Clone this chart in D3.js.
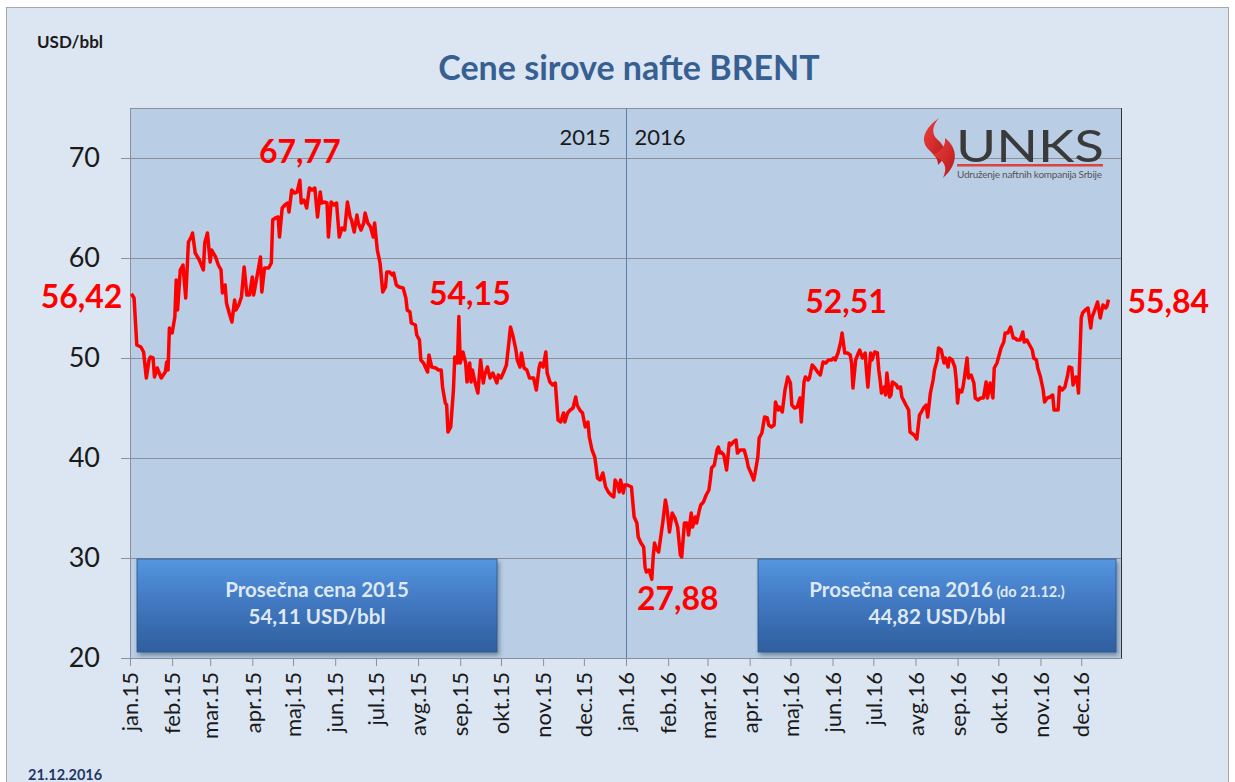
<!DOCTYPE html>
<html>
<head>
<meta charset="utf-8">
<script src="https://cdnjs.cloudflare.com/ajax/libs/d3/7.8.5/d3.min.js"></script>
<style>
body { margin: 0; background: #fff; }
svg text { font-family: Lato, "Open Sans", sans-serif; }
</style>
</head>
<body>
<script>
// [day of year (0 = 1 Jan), price in USD/bbl]
var brent2015 = [
	[1,56.42],[3,56.0],[5,51.3],[8,51.1],[10,50.6],[12,48.0],[14,49.8],[15,50.1],[17,50.0],[18,48.1],
	[20,49.0],[23,48.0],[26,48.6],[27,49.6],[28,48.8],[29,53.0],[31,52.5],[33,54.1],[34,57.8],[35,54.8],
	[37,58.8],[39,59.3],[41,56.0],[43,61.6],[45,62.1],[46,62.5],[48,60.5],[51,59.8],[54,58.8],[55,61.5],
	[57,62.5],[59,59.6],[60,60.8],[63,60.1],[65,59.3],[67,58.8],[68,56.5],[70,57.3],[71,55.5],[73,54.5],
	[75,53.6],[77,55.8],[78,54.8],[80,55.3],[82,56.1],[84,59.1],[86,56.3],[88,56.3],[90,58.1],[91,56.3],
	[93,57.8],[96,60.1],[97,56.6],[99,59.0],[102,59.0],[104,59.5],[105,63.8],[107,64.0],[109,64.1],[110,62.1],
	[112,65.0],[114,65.3],[116,65.5],[117,64.6],[119,66.8],[121,66.5],[123,66.6],[125,67.77],[126,65.5],[128,65.8],
	[130,65.0],[132,67.0],[134,66.8],[136,67.0],[138,64.1],[140,66.6],[141,65.5],[143,65.6],[145,65.5],[146,62.1],
	[148,65.6],[150,65.3],[152,65.5],[154,62.1],[156,63.0],[158,62.8],[160,65.6],[162,64.1],[163,63.8],[165,62.6],
	[167,64.3],[168,63.5],[170,62.8],[172,63.5],[173,64.5],[175,63.5],[177,63.1],[179,62.1],[180,63.5],[182,60.8],
	[184,59.5],[186,56.6],[188,57.1],[189,58.6],[191,58.6],[193,58.3],[194,58.5],[196,57.3],[198,57.1],[201,57.0],
	[203,56.0],[204,54.8],[206,54.6],[207,53.5],[210,53.3],[211,52.3],[213,51.8],[214,49.8],[216,49.5],[219,48.6],
	[220,50.3],[222,49.1],[225,49.0],[227,48.8],[229,48.8],[230,47.1],[232,45.5],[233,45.3],[234,42.6],[236,43.1],
	[238,46.8],[239,50.1],[241,49.5],[242,54.15],[243,49.5],[245,50.6],[247,49.5],[248,47.6],[250,49.5],[251,47.6],
	[252,48.8],[254,47.5],[256,46.5],[258,49.8],[260,47.5],[261,48.3],[263,49.1],[265,48.0],[267,48.5],[270,47.5],
	[271,48.3],[273,48.0],[275,48.6],[277,49.3],[279,51.8],[280,53.1],[282,52.1],[284,50.8],[285,49.8],[287,49.1],
	[288,50.5],[290,49.0],[292,48.8],[294,48.0],[297,48.0],[299,46.8],[301,49.0],[302,49.5],[304,49.1],[306,50.6],
	[307,48.5],[309,47.6],[311,47.3],[313,47.5],[315,43.8],[317,43.6],[319,44.5],[320,43.6],[322,44.5],[324,44.8],
	[326,45.0],[328,46.1],[329,45.3],[331,44.8],[333,44.5],[335,43.1],[337,43.6],[338,42.1],[340,40.8],[342,40.1],
	[343,39.1],[344,38.0],[346,37.8],[348,38.5],[350,37.1],[352,36.6],[354,36.3],[356,36.1],[357,37.8],[359,37.3],
	[360,36.6],[361,37.8],[363,36.5],[364,37.3]
];
var brent2016 = [
	[1,37.3],[4,37.1],[6,34.1],[8,33.5],[9,32.1],[11,31.5],[13,31.1],[14,29.1],[15,28.6],[17,28.8],
	[19,27.88],[20,30.1],[21,31.5],[22,31.0],[24,30.6],[27,33.5],[29,35.8],[30,35.1],[32,32.6],[34,34.5],
	[36,34.0],[38,33.1],[40,30.3],[41,30.1],[43,33.5],[45,33.5],[46,32.3],[48,34.5],[49,33.1],[51,34.1],
	[52,33.5],[54,34.8],[55,35.3],[57,35.6],[59,36.3],[61,36.8],[62,37.8],[63,39.0],[65,39.3],[67,40.8],
	[68,41.1],[69,40.5],[70,40.6],[72,40.3],[74,38.8],[76,41.5],[77,41.3],[79,41.6],[81,41.8],[82,40.5],
	[84,40.8],[87,40.8],[89,39.8],[90,39.1],[92,38.5],[94,37.8],[95,38.5],[97,40.1],[98,42.0],[100,42.5],
	[101,43.3],[102,44.1],[104,44.0],[105,43.3],[107,43.1],[109,43.3],[110,45.6],[112,44.8],[113,45.1],[115,44.6],
	[117,46.8],[119,48.1],[121,47.5],[122,45.3],[124,45.0],[126,45.1],[128,46.0],[129,43.6],[131,47.6],[132,48.1],
	[134,47.8],[135,48.0],[137,49.3],[139,49.0],[141,48.6],[143,48.3],[145,49.6],[147,49.5],[149,49.8],[151,49.8],
	[153,50.0],[154,49.8],[156,50.5],[158,51.6],[159,52.51],[160,51.5],[161,50.5],[163,50.5],[165,50.3],[166,49.5],
	[167,47.0],[169,49.8],[171,50.5],[172,50.8],[174,50.0],[176,50.5],[177,48.6],[178,47.1],[180,50.5],[181,49.8],
	[183,50.6],[185,50.5],[186,48.8],[187,47.8],[188,46.5],[190,47.1],[191,46.3],[192,48.5],[194,46.1],[195,46.3],
	[196,47.6],[199,47.3],[200,47.0],[202,47.1],[203,46.1],[206,45.3],[208,44.8],[209,42.6],[212,42.3],[214,41.9],
	[216,44.3],[217,44.5],[219,45.0],[221,45.3],[222,44.1],[224,46.5],[226,47.8],[227,48.8],[229,49.8],[230,51.0],
	[232,50.8],[234,49.5],[235,50.0],[237,49.1],[238,50.0],[240,49.8],[242,49.1],[243,47.8],[244,45.5],[245,46.8],
	[247,46.6],[248,47.1],[249,48.0],[251,50.0],[252,48.0],[254,48.3],[256,47.5],[257,46.0],[259,45.8],[261,46.0],
	[263,46.0],[265,47.6],[266,46.0],[268,47.5],[270,46.0],[271,49.0],[273,49.5],[275,50.5],[276,51.0],[278,51.6],
	[279,52.5],[281,52.5],[283,53.1],[285,52.0],[286,52.0],[288,51.8],[290,51.8],[292,52.6],[293,51.6],[295,51.8],
	[297,51.3],[299,50.8],[300,50.0],[302,49.8],[303,49.0],[305,48.1],[307,46.8],[308,45.6],[310,46.0],[312,46.1],
	[314,46.3],[315,44.8],[318,44.8],[319,47.1],[321,46.8],[323,47.1],[325,48.3],[326,49.1],[328,49.0],[329,47.3],
	[331,48.1],[332,47.8],[333,46.5],[335,54.0],[336,54.5],[338,54.8],[340,55.0],[342,53.0],[343,54.1],[345,54.8],
	[347,55.6],[349,54.0],[351,55.3],[353,55.0],[354,55.2],[355,55.84]
];

var monthNames = ["jan","feb","mar","apr","maj","jun","jul","avg","sep","okt","nov","dec"];
var yTicks = [20, 30, 40, 50, 60, 70];
var yearLabels = ["2015", "2016"];
var calloutValues = [56.42, 67.77, 54.15, 27.88, 52.51, 55.84];
var avgTitles = ["Prosečna cena 2015", "Prosečna cena 2016"];
var avgNotes = ["", "(do 21.12.)"];
var avgValues = ["54,11 USD/bbl", "44,82 USD/bbl"];

// SVG Size
var width = 1235,
	height = 782;
var margin = {top: 108, right: 113, bottom: 124, left: 130};
var plotW = width - margin.left - margin.right,
	plotH = height - margin.top - margin.bottom;

var data = brent2015.map(function(d) {
	return {date: d3.timeDay.offset(new Date(2015, 0, 1), d[0]), price: d[1]};
}).concat(brent2016.map(function(d) {
	return {date: d3.timeDay.offset(new Date(2016, 0, 1), d[0]), price: d[1]};
}));

var svg = d3.select("body").append("svg")
	.attr("width", width)
	.attr("height", height);

var defs = svg.append("defs");
var grad = defs.append("linearGradient")
	.attr("id", "boxGrad")
	.attr("x1", 0).attr("y1", 0).attr("x2", 0).attr("y2", 1);
grad.append("stop").attr("offset", "0%").attr("stop-color", "#5596e0");
grad.append("stop").attr("offset", "45%").attr("stop-color", "#4279c2");
grad.append("stop").attr("offset", "100%").attr("stop-color", "#2f5f9e");
var shadow = defs.append("filter").attr("id", "shadow")
	.attr("x", "-10%").attr("y", "-10%").attr("width", "130%").attr("height", "140%");
shadow.append("feDropShadow")
	.attr("dx", 2).attr("dy", 3).attr("stdDeviation", 2)
	.attr("flood-color", "#1f3350").attr("flood-opacity", 0.45);
var flameGrad = defs.append("linearGradient")
	.attr("id", "flameGrad")
	.attr("x1", 0).attr("y1", 0).attr("x2", 1).attr("y2", 1);
flameGrad.append("stop").attr("offset", "0%").attr("stop-color", "#f0413c");
flameGrad.append("stop").attr("offset", "100%").attr("stop-color", "#b5181c");

// outer frame
svg.append("rect")
	.attr("x", 6.5).attr("y", 7.5)
	.attr("width", 1222).attr("height", 790)
	.attr("fill", "#dce6f2")
	.attr("stroke", "#a6a6a6");

svg.append("text")
	.attr("x", 37).attr("y", 48)
	.attr("font-size", 17).attr("font-weight", "bold")
	.attr("fill", "#1a1a1a")
	.text("USD/bbl");

svg.append("text")
	.attr("x", 629).attr("y", 80)
	.attr("text-anchor", "middle")
	.attr("font-size", 34).attr("font-weight", "bold")
	.attr("fill", "#376092")
	.text("Cene sirove nafte BRENT");

svg.append("text")
	.attr("x", 28).attr("y", 780)
	.attr("font-size", 14.5).attr("font-weight", "bold")
	.attr("fill", "#1f3864")
	.text("21.12.2016");

var g = svg.append("g")
	.attr("transform", "translate(" + margin.left + "," + margin.top + ")");

var xScale = d3.scaleTime()
	.domain([new Date(2015, 0, 1), new Date(2016, 11, 31)])
	.range([0, plotW]);
var yScale = d3.scaleLinear()
	.domain([20, 75])
	.range([plotH, 0]);

// plot area
g.append("rect")
	.attr("width", plotW).attr("height", plotH)
	.attr("fill", "#b9cde5");

g.selectAll(".grid")
	.data(yTicks.filter(function(v) { return v > 20; }))
	.enter().append("line")
	.attr("class", "grid")
	.attr("x1", 0).attr("x2", plotW)
	.attr("y1", function(d) { return Math.round(yScale(d)) + 0.5; })
	.attr("y2", function(d) { return Math.round(yScale(d)) + 0.5; })
	.attr("stroke", "#8a8f99");

g.append("line")
	.attr("x1", 0).attr("x2", plotW).attr("y1", 0.5).attr("y2", 0.5)
	.attr("stroke", "#8a8f99");
g.append("line")
	.attr("x1", plotW - 0.5).attr("x2", plotW - 0.5).attr("y1", 0).attr("y2", plotH)
	.attr("stroke", "#333");

// divider between years
var split = Math.round(xScale(new Date(2016, 0, 1))) + 0.5;
g.append("line")
	.attr("x1", split).attr("x2", split).attr("y1", 0).attr("y2", plotH)
	.attr("stroke", "#5a7fb0");
g.selectAll(".year")
	.data(yearLabels)
	.enter().append("text")
	.attr("class", "year")
	.attr("x", function(d, i) { return i == 0 ? split - 16 : split + 8; })
	.attr("y", 37)
	.attr("text-anchor", function(d, i) { return i == 0 ? "end" : "start"; })
	.attr("font-size", 22)
	.attr("fill", "#1a1a1a")
	.text(function(d) { return d; });

// axes
var yAxis = d3.axisLeft(yScale)
	.tickValues(yTicks)
	.tickSize(9).tickSizeOuter(0).tickPadding(21);
var yG = g.append("g").attr("class", "yAxis").call(yAxis);
yG.select(".domain").attr("stroke", "#8a8f99");
yG.selectAll(".tick line").attr("stroke", "#8a8f99");
yG.selectAll("text")
	.attr("font-size", 27)
	.attr("font-family", "Lato, sans-serif")
	.attr("fill", "#1a1a1a");

var xAxis = d3.axisBottom(xScale)
	.ticks(d3.timeMonth.every(1))
	.tickSize(8).tickSizeOuter(0)
	.tickFormat(function(d) {
		return monthNames[d.getMonth()] + "." + d3.timeFormat("%y")(d);
	});
var xG = g.append("g")
	.attr("class", "xAxis")
	.attr("transform", "translate(0," + plotH + ")")
	.call(xAxis);
xG.select(".domain").attr("stroke", "#8a8f99");
xG.selectAll(".tick line").attr("stroke", "#8a8f99");
xG.selectAll("text")
	.attr("font-size", 22)
	.attr("font-family", "Lato, sans-serif")
	.attr("fill", "#1a1a1a")
	.attr("text-anchor", "end")
	.attr("transform", "rotate(-90)")
	.attr("x", -14).attr("y", 0)
	.attr("dy", "0.35em");

// average price boxes
var boxes = [{x: 7, w: 360}, {x: 628, w: 358}];
var boxG = g.selectAll(".avg")
	.data(avgTitles)
	.enter().append("g")
	.attr("class", "avg");
boxG.append("rect")
	.attr("x", function(d, i) { return boxes[i].x; })
	.attr("y", 451)
	.attr("width", function(d, i) { return boxes[i].w; })
	.attr("height", 93)
	.attr("fill", "url(#boxGrad)")
	.attr("stroke", "#2c5585")
	.attr("stroke-width", 0.8)
	.attr("filter", "url(#shadow)");
var t1 = boxG.append("text")
	.attr("x", function(d, i) { return boxes[i].x + boxes[i].w / 2; })
	.attr("y", 489)
	.attr("text-anchor", "middle")
	.attr("font-weight", "bold")
	.attr("fill", "#dfe9f5");
t1.append("tspan")
	.attr("font-size", 20.5)
	.text(function(d) { return d; });
t1.append("tspan")
	.attr("font-size", 14.5)
	.text(function(d, i) { return avgNotes[i] ? " " + avgNotes[i] : ""; });
boxG.append("text")
	.attr("x", function(d, i) { return boxes[i].x + boxes[i].w / 2; })
	.attr("y", 516)
	.attr("text-anchor", "middle")
	.attr("font-size", 20.5)
	.attr("font-weight", "bold")
	.attr("fill", "#dfe9f5")
	.text(function(d, i) { return avgValues[i]; });

// price line
var line = d3.line()
	.x(function(d) { return xScale(d.date); })
	.y(function(d) { return yScale(d.price); });
g.append("path")
	.datum(data)
	.attr("d", line)
	.attr("fill", "none")
	.attr("stroke", "#ff0000")
	.attr("stroke-width", 3.5)
	.attr("stroke-linejoin", "round");

// highlighted values
var calloutLayout = [
	{dx: -9, dy: 14, anchor: "end"},
	{dx: 0, dy: -17, anchor: "middle"},
	{dx: 11, dy: -12, anchor: "middle"},
	{dx: 26, dy: 31, anchor: "middle"},
	{dx: 4, dy: -20, anchor: "middle"},
	{dx: 19, dy: 13, anchor: "start"}
];
var fmt = function(v) { return d3.format(".2f")(v).replace(".", ","); };
g.selectAll(".callout")
	.data(calloutValues)
	.enter().append("text")
	.attr("class", "callout")
	.attr("x", function(v, i) {
		var p = data.find(function(d) { return d.price == v; });
		return xScale(p.date) + calloutLayout[i].dx;
	})
	.attr("y", function(v, i) { return yScale(v) + calloutLayout[i].dy; })
	.attr("text-anchor", function(v, i) { return calloutLayout[i].anchor; })
	.attr("font-size", 32)
	.attr("font-weight", "bold")
	.attr("fill", "#ff0000")
	.text(fmt);

// logo
var logo = svg.append("g").attr("transform", "translate(921,118)");
logo.append("path")
	.attr("d", "M18,0 C4,10 -2,22 8,32 C13,37 17,40 17,47 C26,39 26,30 17,22 C10,16 11,8 18,0 Z")
	.attr("fill", "url(#flameGrad)");
logo.append("path")
	.attr("d", "M24,20 C37,30 38,46 22,60 C27,49 24,43 12,37 C20,33 25,28 24,20 Z")
	.attr("fill", "url(#flameGrad)");
logo.append("text")
	.attr("x", 35).attr("y", 44)
	.attr("font-family", "Liberation Sans, Arial, sans-serif")
	.attr("font-size", 44)
	.attr("textLength", 148)
	.attr("lengthAdjust", "spacingAndGlyphs")
	.attr("fill", "#3a3a3a")
	.text("UNKS");
logo.append("rect")
	.attr("x", 36).attr("y", 46)
	.attr("width", 146).attr("height", 2.5)
	.attr("fill", "#e0413f");
logo.append("text")
	.attr("x", 36).attr("y", 60)
	.attr("font-family", "Liberation Sans, Arial, sans-serif")
	.attr("font-size", 10)
	.attr("textLength", 145)
	.attr("fill", "#555")
	.text("Udruženje naftnih kompanija Srbije");
</script>
</body>
</html>
